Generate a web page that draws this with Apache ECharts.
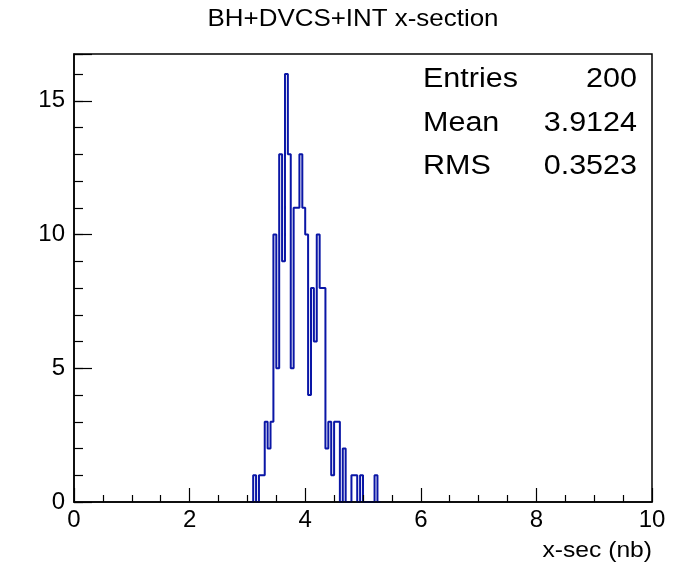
<!DOCTYPE html>
<html>
<head>
<meta charset="utf-8">
<script src="https://cdn.jsdelivr.net/npm/echarts@6/dist/echarts.min.js"></script>
<style>
  html, body { margin: 0; padding: 0; background: #fff; }
  #chart { width: 687px; height: 572px; }
</style>
</head>
<body>
<div id="chart"></div>
<script>
// histogram: 0.05 wide bins, first listed bin starts at 3.05
const binStart = 3.05;
const binWidth = 0.05;
const counts = [0, 1, 0, 1, 1, 3, 2, 3, 10, 5, 13, 9, 16, 13, 5, 11, 11, 13, 11, 10,
  4, 8, 6, 10, 8, 8, 2, 3, 1, 3, 3, 0, 2, 0, 0, 1, 1, 0, 1, 0, 0, 0, 0, 1, 0];

const xTicks = [0, 2, 4, 6, 8, 10];
const yTicks = [0, 5, 10, 15];

const statNames = ["Entries", "Mean", "RMS"];
const statValues = ["200", "3.9124", "0.3523"];

const titleText = "BH+DVCS+INT x-section";
const xTitle = "x-sec (nb)";

// step points at bin low edges, plus closing edge
let points = counts.map((c, i) => [+(binStart + i * binWidth).toFixed(3), c]);
points.push([+(binStart + counts.length * binWidth).toFixed(3), 0]);

const font = "Liberation Sans";
const chart = echarts.init(document.getElementById("chart"));

let statText = [];
statNames.forEach((name, i) => {
  let y = 80 + i * 43.5;
  statText.push({
    type: "text", x: 423, y: y, scaleX: 1.13, z: 10,
    style: { text: name, font: "27px " + font, fill: "#000", textAlign: "left", textVerticalAlign: "middle" },
  });
  statText.push({
    type: "text", x: 637, y: y, scaleX: 1.13, z: 10,
    style: { text: statValues[i], font: "27px " + font, fill: "#000", textAlign: "right", textVerticalAlign: "middle" },
  });
});

chart.setOption({
  animation: false,
  grid: {
    left: 74, top: 54, right: 35, bottom: 70,
    show: true, borderColor: "#000", borderWidth: 1.5, backgroundColor: "transparent",
    outerBoundsMode: "none",
  },
  xAxis: {
    type: "value", min: 0, max: 10, interval: 2, z: 5,
    axisLine: { show: true, lineStyle: { color: "#000", width: 1.5 } },
    axisTick: { show: true, inside: true, length: 14, lineStyle: { color: "#000", width: 1.2 } },
    minorTick: { show: true, splitNumber: 4, length: 7, lineStyle: { color: "#000", width: 1.2 } },
    axisLabel: {
      margin: 6, color: "#000", fontFamily: font, fontSize: 24,
      formatter: (v) => (xTicks.indexOf(v) >= 0 ? String(v) : ""),
    },
    splitLine: { show: false },
  },
  yAxis: [
    {
      type: "value", min: 0, max: 16.75, interval: 5, z: 5,
      axisLine: { show: true, lineStyle: { color: "#000", width: 1.5 } },
      axisTick: { show: true, inside: true, length: 18, lineStyle: { color: "#000", width: 1.2 } },
      axisLabel: {
        margin: 9, color: "#000", fontFamily: font, fontSize: 24,
        formatter: (v) => (yTicks.indexOf(v) >= 0 ? String(v) : ""),
      },
      splitLine: { show: false },
    },
    {
      // minor ticks every 1
      type: "value", min: 0, max: 16.75, interval: 1, position: "left", z: 5,
      axisLine: { show: false },
      axisTick: { show: true, inside: true, length: 9, lineStyle: { color: "#000", width: 1.2 } },
      axisLabel: { show: false },
      splitLine: { show: false },
    },
  ],
  series: [
    {
      type: "line",
      step: "end",
      data: points,
      showSymbol: false,
      symbol: "none",
      lineStyle: { color: "#0a16a6", width: 2 },
      z: 2,
    },
  ],
  graphic: [
    {
      type: "text", x: 353, y: 19, scaleX: 1.08, z: 10,
      style: { text: titleText, font: "24px " + font, fill: "#000", textAlign: "center", textVerticalAlign: "middle" },
    },
    {
      type: "text", x: 652, y: 551, scaleX: 1.12, z: 10,
      style: { text: xTitle, font: "22px " + font, fill: "#000", textAlign: "right", textVerticalAlign: "middle" },
    },
  ].concat(statText),
});
</script>
</body>
</html>
